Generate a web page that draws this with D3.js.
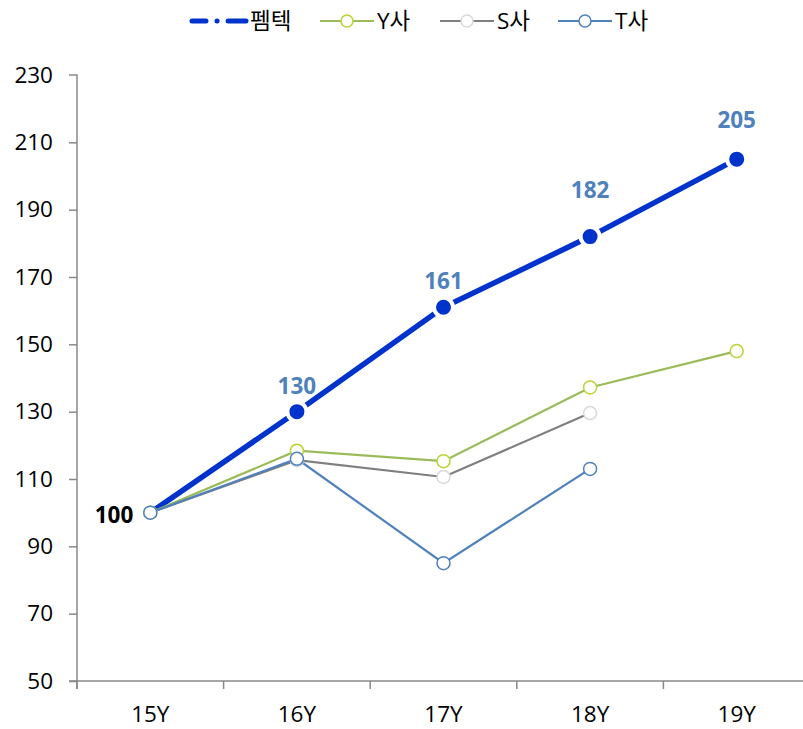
<!DOCTYPE html>
<html>
<head>
<meta charset="utf-8">
<script src="https://cdn.jsdelivr.net/npm/d3@7"></script>
<style>
  html, body { margin: 0; padding: 0; background: #fff; }
  svg text { font-family: "Open Sans", "Noto Sans CJK KR", sans-serif; }
</style>
</head>
<body>
<div id="chart"></div>
<script>
// === data ===
const years = ["15Y", "16Y", "17Y", "18Y", "19Y"];
const seriesNames = ["펨텍", "Y사", "S사", "T사"];
const pemtek = [100, 130, 161, 182, 205];
const ySa = [100, 118.4, 115.3, 137.2, 148];
const sSa = [100, 115.6, 110.6, 129.6, null];
const tSa = [100, 116, 85, 113, null];
const yTicks = [50, 70, 90, 110, 130, 150, 170, 190, 210, 230];

// === sizing ===
const outerW = 803, outerH = 729;
const margin = { top: 75, left: 77, bottom: 48 };
const bandW = 146.6;
const plotW = bandW * years.length;
const plotH = outerH - margin.top - margin.bottom;
const fs = 22.5;
// label centre distance above each point (labels were hand-placed in the original)
const labelLift = [26, 26, 47, 39];

const svg = d3.select("#chart").append("svg")
  .attr("width", outerW).attr("height", outerH);

const g = svg.append("g").attr("transform", `translate(${margin.left},${margin.top})`);

const x = d3.scaleBand().domain(years).range([0, plotW]);
const y = d3.scaleLinear().domain([50, 230]).range([plotH, 0]);
const cx = d => x(d) + x.bandwidth() / 2;

const axisColor = "#898989";

// y axis
const yAxisG = g.append("g")
  .call(d3.axisLeft(y).tickValues(yTicks).tickSize(8).tickPadding(16));
yAxisG.select(".domain").attr("stroke", axisColor).attr("stroke-width", 1.5)
  .attr("d", `M0,${plotH + 8}V0H-8`);
yAxisG.selectAll(".tick line").attr("stroke", axisColor).attr("stroke-width", 1.5);
yAxisG.selectAll(".tick text").attr("font-size", fs).attr("fill", "#000");
yAxisG.selectAll(".tick").filter(d => d === 230).select("line").remove();

// x axis
const xAxisG = g.append("g").attr("transform", `translate(0,${plotH})`)
  .call(d3.axisBottom(x).tickSize(0).tickPadding(25));
xAxisG.select(".domain").attr("stroke", axisColor).attr("stroke-width", 1.5)
  .attr("d", `M-8,0H${plotW}`);
xAxisG.selectAll(".tick text").attr("font-size", fs).attr("fill", "#000");
// category boundary ticks
xAxisG.selectAll("line.bound")
  .data(years)
  .join("line")
  .attr("class", "bound")
  .attr("x1", d => x(d)).attr("x2", d => x(d))
  .attr("y1", 0).attr("y2", 8)
  .attr("stroke", axisColor).attr("stroke-width", 1.5);

// secondary series
const others = [
  { name: "Y사", values: ySa, line: "#9bbb59", marker: "#b8d430" },
  { name: "S사", values: sSa, line: "#7f7f7f", marker: "#d9d9d9" },
  { name: "T사", values: tSa, line: "#4f81bd", marker: "#4f81bd" }
];

const lineGen = d3.line()
  .defined(d => d.v != null)
  .x(d => cx(d.year))
  .y(d => y(d.v));

const toPts = vals => years.map((yr, i) => ({ year: yr, v: vals[i] }));

// main line first (under the others near 15Y)
const mainPts = toPts(pemtek);
g.append("path")
  .datum(mainPts)
  .attr("fill", "none")
  .attr("stroke", "#0033cc")
  .attr("stroke-width", 5.5)
  .attr("d", lineGen);

g.selectAll("circle.main")
  .data(mainPts.slice(1))
  .join("circle")
  .attr("class", "main")
  .attr("cx", d => cx(d.year)).attr("cy", d => y(d.v))
  .attr("r", 9.5)
  .attr("fill", "#0033cc")
  .attr("stroke", "#fff").attr("stroke-width", 4);

// S under Y, T on top
const order = [others[1], others[0], others[2]];
order.forEach(s => {
  g.append("path")
    .datum(toPts(s.values))
    .attr("fill", "none")
    .attr("stroke", s.line)
    .attr("stroke-width", 2.2)
    .attr("d", lineGen);
});
order.forEach(s => {
  g.selectAll(null)
    .data(toPts(s.values).filter(d => d.v != null))
    .join("circle")
    .attr("cx", d => cx(d.year)).attr("cy", d => y(d.v))
    .attr("r", 6.5)
    .attr("fill", "#fff")
    .attr("stroke", s.marker).attr("stroke-width", 1.5);
});

// data labels
g.selectAll("text.lbl")
  .data(mainPts.slice(1))
  .join("text")
  .attr("class", "lbl")
  .attr("x", d => cx(d.year))
  .attr("y", (d, i) => y(d.v) - labelLift[i])
  .attr("dy", "0.36em")
  .attr("text-anchor", "middle")
  .attr("font-size", fs).attr("font-weight", "bold")
  .attr("fill", "#4f81bd")
  .text(d => d.v);

g.append("text")
  .attr("x", cx(years[0]) - 17).attr("y", y(pemtek[0]) + 10)
  .attr("text-anchor", "end")
  .attr("font-size", fs).attr("font-weight", "bold")
  .attr("fill", "#000")
  .text(pemtek[0]);

// legend
const legend = svg.append("g").attr("transform", "translate(0,21)");
const legItems = [
  { name: seriesNames[0], x: 190, main: true },
  { name: seriesNames[1], x: 320, line: "#9bbb59", marker: "#b8d430" },
  { name: seriesNames[2], x: 440, line: "#7f7f7f", marker: "#d9d9d9" },
  { name: seriesNames[3], x: 558, line: "#4f81bd", marker: "#4f81bd" }
];
legItems.forEach(it => {
  const lg = legend.append("g").attr("transform", `translate(${it.x},0)`);
  if (it.main) {
    lg.append("line").attr("x1", 2).attr("x2", 56).attr("y1", 0).attr("y2", 0)
      .attr("stroke", "#0033cc").attr("stroke-width", 5)
      .attr("stroke-linecap", "round")
      .attr("stroke-dasharray", "14 11 0.1 11 20");
  } else {
    lg.append("line").attr("x1", 0).attr("x2", 54).attr("y1", 0).attr("y2", 0)
      .attr("stroke", it.line).attr("stroke-width", 2.2);
    lg.append("circle").attr("cx", 27).attr("cy", 0).attr("r", 6)
      .attr("fill", "#fff").attr("stroke", it.marker).attr("stroke-width", 1.5);
  }
  lg.append("text").attr("x", it.main ? 60 : 57).attr("y", 8)
    .attr("font-size", fs).attr("fill", "#000")
    .text(it.name);
});
</script>
</body>
</html>
